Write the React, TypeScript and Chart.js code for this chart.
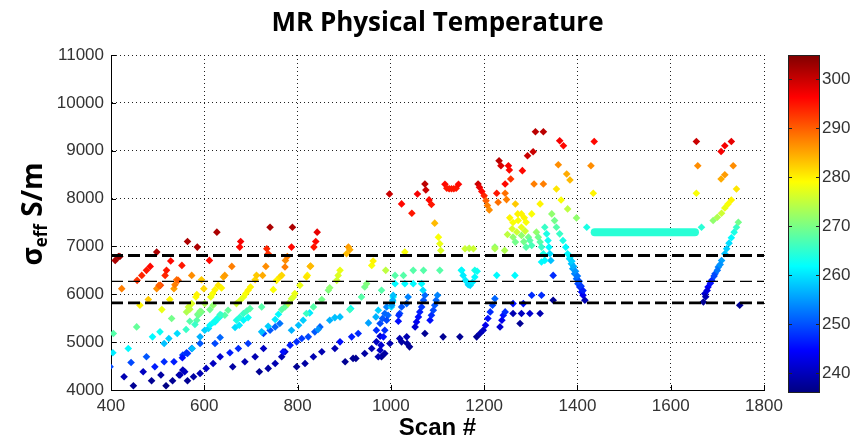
import React, { useEffect, useRef } from 'react';
import { Chart, registerables } from 'chart.js';

Chart.register(...registerables);

// ---------- data ----------
const xTickRange = [400, 1800];
const yTickRange = [4000, 11000];
const colorbarRange = [236.6, 305];
const thresholdLevels = [6810, 6270, 5820];
const plateauScans = [1437, 1652];
const plateauSigma = [7298, 7298];
const plateauTemp = 265;

// [scan #, sigma_eff (S/m), temperature (K)]
const leftNavy: number[][] = [
  [448, 4090, 238], [428, 4277, 240], [469, 4382, 241], [487, 4194, 238], [507, 4312, 239], [518, 4090, 237],
  [532, 4194, 238], [546, 4312, 239], [554, 4416, 240], [564, 4194, 238], [577, 4277, 239], [591, 4347, 240],
  [604, 4451, 241], [619, 4555, 241], [634, 4694, 242], [661, 4486, 239], [687, 4590, 240], [709, 4694, 240],
  [727, 4868, 241], [718, 4382, 238], [737, 4451, 239], [752, 4555, 240], [766, 4694, 240], [773, 4800, 241],
  [798, 4486, 238], [816, 4555, 239], [834, 4694, 240], [852, 4798, 240], [880, 4868, 240], [902, 4590, 238],
  [919, 4660, 238], [925, 4660, 238], [944, 4763, 239], [959, 4868, 240], [969, 5006, 241], [977, 5124, 242],
  [980, 4694, 238], [987, 4763, 239], [998, 4972, 240], [548, 4312, 240], [558, 4382, 241],
];

const leftBlue: number[][] = [
  [398, 4486, 250], [443, 4576, 250], [476, 4694, 251], [494, 4486, 247], [514, 4590, 248], [535, 4590, 247],
  [554, 4729, 249], [564, 4763, 249], [573, 4868, 250], [591, 4972, 251], [623, 4972, 250], [634, 5097, 252],
  [655, 4778, 247], [673, 4868, 248], [694, 4972, 249], [769, 4798, 246], [784, 4937, 247], [798, 5006, 248],
  [809, 5076, 249], [727, 5180, 250], [741, 5250, 251], [752, 5319, 252], [762, 5388, 253], [823, 5111, 250],
  [837, 5215, 251], [848, 5319, 252], [891, 5006, 246], [916, 5111, 247], [930, 5180, 248], [969, 5250, 248],
  [977, 5388, 250], [982, 5493, 251], [987, 5597, 252], [991, 5736, 254], [553, 4674, 246], [562, 4778, 248],
];

const leftCyan: number[][] = [
  [404, 4778, 261], [437, 4868, 262], [489, 5111, 262], [505, 5215, 263], [514, 4972, 258], [524, 5076, 259],
  [542, 5180, 260], [591, 5111, 257], [601, 5250, 259], [609, 5284, 260], [623, 5423, 262], [630, 5493, 263],
  [637, 5562, 264], [666, 5305, 260], [675, 5354, 261], [684, 5458, 262], [694, 5513, 263], [723, 5215, 258],
  [737, 5333, 259], [752, 5472, 261], [759, 5583, 262], [787, 5249, 257], [802, 5354, 258], [812, 5458, 259],
  [826, 5611, 261], [844, 5263, 255], [869, 5458, 257], [880, 5513, 258], [891, 5527, 258], [914, 5701, 262],
  [952, 5402, 256], [968, 5527, 257], [973, 5666, 259], [1001, 5736, 260], [1004, 5840, 261], [1005, 5944, 262],
  [574, 4868, 258], [612, 5354, 262], [620, 5420, 263], [628, 5500, 264], [669, 5458, 264], [676, 5520, 265],
];

const leftGreen: number[][] = [
  [405, 5180, 268], [455, 5319, 269], [530, 5493, 270], [561, 5263, 266], [569, 5437, 268], [584, 5458, 268],
  [587, 5562, 269], [594, 5632, 270], [612, 5680, 270], [619, 5771, 272], [644, 5562, 268], [651, 5666, 269],
  [723, 5736, 268], [766, 5680, 268], [773, 5736, 269], [819, 5597, 266], [834, 5736, 268], [852, 5889, 270],
  [866, 6083, 271], [869, 6138, 272], [912, 5680, 266], [937, 5944, 268], [944, 6152, 270], [948, 6222, 271],
  [980, 6083, 268], [580, 5368, 266], [586, 5583, 270], [634, 5576, 266], [684, 5600, 266], [691, 5650, 267],
  [698, 5701, 268], [591, 5646, 271], [562, 5632, 274],
];

const leftYellow: number[][] = [
  [462, 5771, 280], [480, 5889, 283], [509, 5680, 278], [526, 5889, 280], [566, 5736, 276], [573, 5805, 277],
  [582, 5944, 279], [614, 5944, 278], [618, 6014, 279], [623, 6097, 280], [630, 6187, 281], [669, 5805, 276],
  [677, 5875, 277], [684, 5944, 278], [689, 6014, 279], [694, 6083, 280], [699, 6152, 280], [709, 6305, 282],
  [748, 6097, 279], [755, 6291, 280], [762, 6361, 281], [780, 5805, 275], [787, 5909, 276], [791, 5944, 277],
  [805, 6187, 278], [821, 6395, 280], [884, 6291, 276], [887, 6395, 277], [891, 6500, 278], [959, 6604, 279],
  [962, 6694, 280], [989, 6500, 275], [584, 5993, 280], [599, 6118, 282], [637, 6132, 280], [712, 6396, 283],
  [766, 6396, 282], [819, 6361, 281], [794, 6014, 278], [569, 5687, 275], [601, 5805, 274],
];

const leftOrange: number[][] = [
  [423, 6118, 288], [498, 6118, 287], [535, 6118, 286], [541, 6305, 289], [573, 6395, 287], [594, 6305, 283],
  [641, 6361, 285], [644, 6395, 286], [659, 6583, 288], [725, 6395, 285], [732, 6583, 287], [774, 6708, 287],
  [778, 6791, 288], [827, 6583, 284], [909, 6986, 286], [912, 6930, 285], [905, 6847, 284], [537, 6200, 288],
  [544, 6291, 290], [773, 6569, 288], [828, 6590, 284],
];

const leftRed: number[][] = [
  [456, 6291, 293], [466, 6395, 294], [476, 6500, 295], [484, 6583, 296], [506, 6187, 292], [516, 6395, 294],
  [519, 6500, 295], [528, 6694, 296], [552, 6604, 295], [611, 6708, 296], [676, 6986, 296], [678, 7104, 297],
  [734, 6951, 294], [737, 6847, 293], [787, 6986, 296], [835, 6986, 295], [839, 7104, 296], [842, 7298, 298],
  [409, 6708, 302], [416, 6791, 303], [419, 6791, 303], [498, 6882, 302], [564, 7104, 302], [585, 6986, 302],
  [627, 7298, 302], [741, 7402, 302], [789, 7402, 302], [503, 6187, 290],
];

const rightWarm: number[][] = [
  [997, 8097, 300], [1023, 7889, 296], [1045, 7694, 295], [1057, 8097, 297], [1073, 8305, 301], [1075, 8180, 300],
  [1082, 7972, 296], [1087, 7875, 295], [1116, 8300, 296], [1120, 8215, 295], [1125, 8205, 295], [1130, 8205, 295],
  [1135, 8205, 295], [1140, 8215, 295], [1145, 8300, 296], [1187, 8305, 300], [1190, 8236, 298], [1195, 8150, 296],
  [1200, 8060, 294], [1227, 8110, 295], [1232, 8791, 301], [1236, 8686, 299], [1245, 8305, 296], [1252, 8686, 297],
  [1254, 8597, 296], [1257, 8409, 293], [1282, 8583, 296], [1293, 8895, 300], [1305, 8978, 300], [1310, 9395, 301],
  [1327, 9395, 301], [1362, 9207, 297], [1370, 9103, 296], [1436, 9193, 296], [1655, 9193, 300], [1708, 8985, 297],
  [1716, 9103, 297], [1730, 9193, 298],
  [1204, 7957, 290], [1207, 7853, 288], [1211, 7763, 287], [1230, 7922, 289], [1245, 8110, 289], [1248, 7978, 288],
  [1307, 8305, 288], [1327, 8305, 288], [1359, 8707, 287], [1377, 8513, 285], [1384, 8388, 284], [1429, 8687, 287],
  [1658, 8687, 287], [1708, 8409, 285], [1716, 8499, 286], [1734, 8687, 287], [1094, 7486, 284], [1267, 7888, 283],
];

const rightYellow: number[][] = [
  [1102, 7194, 279], [1105, 7055, 278], [1107, 6916, 277], [1320, 7889, 280], [1302, 7680, 279], [1255, 7597, 280],
  [1262, 7500, 279], [1272, 7680, 280], [1280, 7680, 280], [1286, 7597, 280], [1290, 7506, 279], [1273, 7541, 279],
  [1260, 7370, 277], [1270, 7300, 276], [1280, 7400, 278], [1288, 7320, 276], [1250, 7250, 275], [1355, 8201, 281],
  [1365, 7971, 279], [1379, 7784, 275], [1434, 8110, 280], [1655, 8110, 279], [1741, 8201, 281], [1030, 6882, 279],
  [1159, 6951, 276], [1168, 6960, 275], [1177, 6951, 276], [1223, 6951, 274], [1244, 6917, 274], [1691, 7541, 272],
  [1700, 7611, 274], [1709, 7694, 276], [1716, 7805, 278], [1723, 7888, 279], [1730, 7971, 280],
];

const rightGreenCyan: number[][] = [
  [1398, 7596, 272], [1345, 7680, 272], [1351, 7540, 270], [1355, 7402, 268], [1362, 7263, 266], [1369, 7124, 264],
  [1375, 6985, 262], [1330, 7402, 266], [1334, 7263, 264], [1337, 7124, 263], [1339, 6985, 262], [1341, 6846, 260],
  [1343, 6707, 258], [1295, 7194, 270], [1298, 7125, 268], [1302, 7020, 267], [1312, 7298, 272], [1316, 7194, 270],
  [1320, 7090, 268], [1323, 6986, 266], [1327, 6847, 264], [1330, 6708, 262], [1262, 7194, 272], [1267, 7090, 270],
  [1280, 7230, 272], [1285, 7100, 270], [1290, 6985, 268], [1266, 6395, 262], [1227, 6396, 262], [1223, 6986, 272],
  [1323, 6674, 262], [1009, 6395, 268], [1027, 6395, 268], [1048, 6500, 268], [1070, 6500, 268], [1105, 6500, 268],
  [1151, 6500, 264], [1180, 6500, 264], [1009, 6222, 262], [1030, 6222, 262], [1048, 6222, 262], [1066, 6222, 262],
  [1069, 6083, 260], [1152, 6500, 262], [1155, 6395, 261], [1160, 6290, 261], [1166, 6200, 260], [1170, 6187, 260],
  [1175, 6250, 261], [1180, 6360, 262], [1185, 6480, 263], [1420, 7402, 264], [1666, 7402, 265], [1745, 7506, 270],
];

const rightCold: number[][] = [
  [1005, 5979, 258], [1004, 5875, 257], [1002, 5771, 256], [994, 5562, 252], [991, 5458, 250], [987, 5250, 248],
  [984, 5111, 246], [979, 4937, 242], [977, 4833, 241], [973, 4694, 240], [1052, 5319, 242], [1055, 5423, 244],
  [1059, 5527, 246], [1062, 5632, 247], [1066, 5736, 249], [1070, 5875, 251], [1073, 5979, 252], [1084, 5458, 246],
  [1087, 5562, 248], [1091, 5666, 250], [1094, 5771, 251], [1097, 5875, 252], [1100, 5979, 254], [1034, 5805, 252],
  [1037, 5944, 254], [1019, 5597, 250], [1023, 5736, 251], [1016, 5437, 246], [1017, 5562, 248], [1034, 5111, 240],
  [1035, 4972, 239], [1040, 4902, 238], [1019, 5076, 240], [1023, 5006, 239], [1073, 5180, 238], [1112, 5111, 238],
  [1148, 5111, 238], [1184, 5111, 238], [1191, 5180, 240], [1198, 5250, 241], [1203, 5354, 244], [1208, 5493, 246],
  [1213, 5632, 248], [1218, 5771, 250], [1223, 5909, 252], [1234, 5319, 242], [1238, 5458, 244], [1241, 5562, 246],
  [1245, 5632, 248], [1262, 5805, 246], [1284, 5805, 246], [1262, 5597, 240], [1280, 5597, 241], [1298, 5597, 242],
  [1320, 5597, 240], [1277, 5389, 238], [1302, 5979, 248], [1323, 5979, 248], [1348, 5875, 238], [1348, 6395, 248],
  [1379, 6846, 262], [1383, 6742, 260], [1387, 6638, 258], [1390, 6534, 256], [1394, 6430, 254], [1398, 6326, 252],
  [1401, 6222, 250], [1405, 6152, 248], [1409, 6048, 246], [1412, 5979, 244], [1416, 5874, 240], [1384, 6780, 261],
  [1388, 6690, 259], [1392, 6580, 257], [1396, 6480, 255], [1400, 6380, 253], [1404, 6270, 251], [1408, 6170, 249],
  [1412, 6080, 247], [1670, 5840, 238], [1673, 6013, 242], [1680, 6152, 245], [1688, 6291, 248], [1695, 6430, 251],
  [1702, 6568, 254], [1709, 6707, 256], [1716, 6846, 258], [1720, 6950, 259], [1725, 7069, 260], [1730, 7180, 262],
  [1736, 7298, 264], [1741, 7402, 266], [1675, 5950, 240], [1685, 6230, 246], [1693, 6380, 250], [1700, 6500, 253],
  [1706, 6620, 255], [1678, 6080, 243], [1748, 5770, 238],
];

// ---------- helpers ----------
function jet(v: number): string {
  const t = Math.min(1, Math.max(0, (v - colorbarRange[0]) / (colorbarRange[1] - colorbarRange[0])));
  const c = (x: number) => Math.round(255 * Math.min(1, Math.max(0, x)));
  const r = c(1.5 - Math.abs(4 * t - 3));
  const g = c(1.5 - Math.abs(4 * t - 2));
  const b = c(1.5 - Math.abs(4 * t - 1));
  return `rgb(${r},${g},${b})`;
}

const TICK_FONT = { family: '"Liberation Sans Narrow", "Arial Narrow", "Liberation Sans", sans-serif', size: 17 };
const TICK_COLOR = '#333';
const plainLabel = (v: any) => String(v);
const W = 851;
const H = 440;

const decorPlugin = {
  id: 'decor',
  afterDraw(chart: any) {
    const { ctx, chartArea } = chart;
    const xs = chart.scales.x;
    const ys = chart.scales.y;
    const cb = chart.scales.cb;
    ctx.save();
    // inward ticks
    ctx.strokeStyle = '#000';
    ctx.lineWidth = 1;
    ctx.beginPath();
    xs.ticks.forEach((t: any) => {
      const px = Math.round(xs.getPixelForValue(t.value)) + 0.5;
      ctx.moveTo(px, chartArea.bottom);
      ctx.lineTo(px, chartArea.bottom - 5);
    });
    ys.ticks.forEach((t: any) => {
      const py = Math.round(ys.getPixelForValue(t.value)) + 0.5;
      ctx.moveTo(chartArea.left, py);
      ctx.lineTo(chartArea.left + 5, py);
    });
    ctx.stroke();

    // colorbar
    const top = cb.getPixelForValue(colorbarRange[1]);
    const bottom = cb.getPixelForValue(colorbarRange[0]) + 3;
    const left = chartArea.right + 24;
    const right = chartArea.right + 56;
    const grad = ctx.createLinearGradient(0, bottom, 0, top);
    for (let i = 0; i <= 32; i++) {
      const f = i / 32;
      grad.addColorStop(f, jet(colorbarRange[0] + f * (colorbarRange[1] - colorbarRange[0])));
    }
    ctx.fillStyle = grad;
    ctx.fillRect(left, top, right - left, bottom - top);
    ctx.strokeStyle = '#222';
    ctx.strokeRect(left + 0.5, top + 0.5, right - left - 1, bottom - top - 1);
    ctx.beginPath();
    cb.ticks.forEach((t: any) => {
      const py = Math.round(cb.getPixelForValue(t.value)) + 0.5;
      ctx.moveTo(right, py);
      ctx.lineTo(right - 4, py);
      ctx.moveTo(left, py);
      ctx.lineTo(left + 4, py);
    });
    ctx.stroke();

    // title
    ctx.fillStyle = '#000';
    ctx.font = 'bold 26px "Open Sans", sans-serif';
    ctx.textAlign = 'center';
    ctx.textBaseline = 'alphabetic';
    ctx.fillText('MR Physical Temperature', (chartArea.left + chartArea.right) / 2, 31);

    // y-axis title with subscript
    const big = 'bold 28px "Open Sans", sans-serif';
    const small = 'bold 17px "Open Sans", sans-serif';
    ctx.font = big;
    const wSigma = ctx.measureText('σ').width;
    const wRest = ctx.measureText(' S/m').width;
    ctx.font = small;
    const wEff = ctx.measureText('eff').width;
    const total = wSigma + wEff + wRest;
    ctx.translate(42, 214);
    ctx.rotate(-Math.PI / 2);
    ctx.textAlign = 'left';
    let x0 = -total / 2;
    ctx.font = big;
    ctx.fillText('σ', x0, 0);
    x0 += wSigma;
    ctx.font = small;
    ctx.fillText('eff', x0, 5);
    x0 += wEff;
    ctx.font = big;
    ctx.fillText(' S/m', x0, 0);
    ctx.restore();
  },
};

export default function App() {
  const ref = useRef<HTMLCanvasElement>(null);
  useEffect(() => {
    const groups = [leftNavy, leftBlue, leftCyan, leftGreen, leftYellow, leftOrange, leftRed, rightCold, rightGreenCyan, rightYellow, rightWarm];
    const all = groups.flat();
    const canvas = ref.current as HTMLCanvasElement;
    canvas.width = W;
    canvas.height = H;
    const chart = new Chart(canvas, {
      type: 'scatter',
      data: {
        datasets: [
          ...thresholdLevels.map((lvl, i) => ({
            type: 'line' as const,
            data: [{ x: xTickRange[0], y: lvl }, { x: xTickRange[1], y: lvl }],
            borderColor: '#000',
            borderWidth: i === 1 ? 1.3 : 2.8,
            borderDash: [12, 5],
            pointRadius: 0,
            order: 0,
          })),
          {
            type: 'line' as const,
            data: plateauScans.map((s, i) => ({ x: s, y: plateauSigma[i] })),
            borderColor: jet(plateauTemp),
            borderWidth: 8,
            borderCapStyle: 'round' as const,
            pointRadius: 0,
            order: 1,
          },
          {
            type: 'scatter' as const,
            data: all.map((p) => ({ x: p[0], y: p[1] })),
            pointStyle: 'rectRot',
            pointRadius: 3.8,
            backgroundColor: all.map((p) => jet(p[2])),
            borderColor: all.map((p) => jet(p[2])),
            borderWidth: 0,
            order: 2,
          },
        ],
      },
      options: {
        animation: false,
        responsive: false,
        events: [],
        layout: { autoPadding: false, padding: { top: 55, left: 0, right: 0, bottom: 0 } },
        plugins: { legend: { display: false }, tooltip: { enabled: false }, title: { display: false } },
        scales: {
          x: {
            type: 'linear',
            min: xTickRange[0],
            max: xTickRange[1],
            ticks: { stepSize: 200, font: TICK_FONT, color: TICK_COLOR, padding: 6, maxRotation: 0, callback: plainLabel },
            grid: { color: '#222', lineWidth: 1, drawTicks: false },
            border: { display: true, color: '#000', width: 1, dash: [1, 3] },
            title: {
              display: true,
              text: 'Scan #',
              color: '#000',
              font: { family: '"Liberation Sans", Arial, sans-serif', weight: 'bold', size: 24, lineHeight: 1 },
              padding: { top: 0, bottom: 0 },
            },
            afterFit: (s: any) => { s.height = 50; },
          },
          y: {
            type: 'linear',
            min: yTickRange[0],
            max: yTickRange[1],
            ticks: { stepSize: 1000, font: TICK_FONT, color: TICK_COLOR, padding: 7, callback: plainLabel },
            grid: { color: '#222', lineWidth: 1, drawTicks: false },
            border: { display: true, color: '#000', width: 1, dash: [1, 3] },
            afterFit: (s: any) => { s.width = 111; },
          },
          cb: {
            type: 'linear',
            position: 'right',
            min: colorbarRange[0],
            max: colorbarRange[1],
            ticks: { stepSize: 10, includeBounds: false, font: TICK_FONT, color: TICK_COLOR, padding: 2, callback: plainLabel },
            grid: { display: false, drawTicks: true, tickLength: 56 },
            border: { display: false },
            afterFit: (s: any) => { s.width = 87; },
          },
        },
      } as any,
      plugins: [decorPlugin],
    });
    return () => chart.destroy();
  }, []);
  return (
    <div style={{ position: 'absolute', left: 0, top: 0, width: W, height: H, background: '#fff' }}>
      <canvas ref={ref} width={W} height={H} style={{ display: 'block', width: W, height: H }} />
    </div>
  );
}
